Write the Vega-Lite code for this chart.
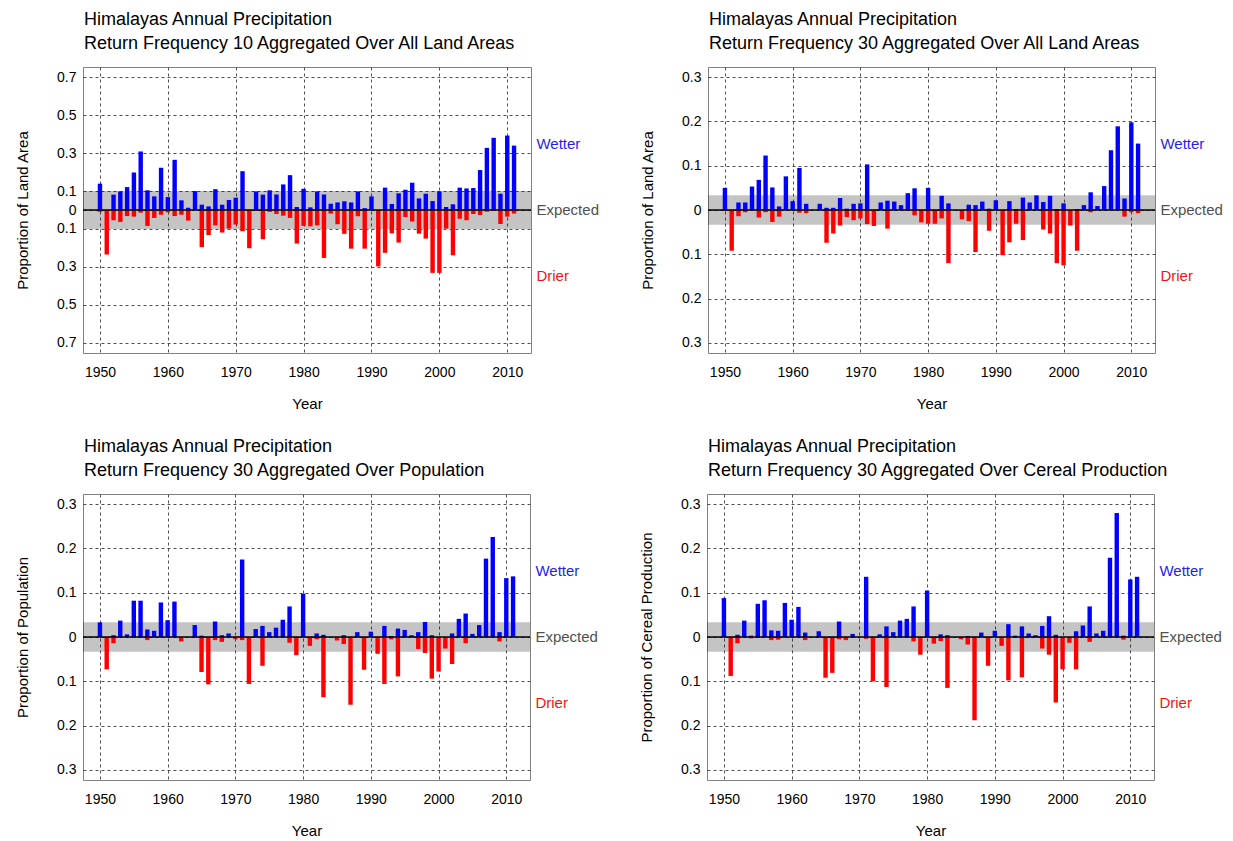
{
"$schema":"https://vega.github.io/schema/vega-lite/v6.json",
"padding":{"left":15,"top":10,"right":0,"bottom":0},
"background":"white",
"config":{
 "font":"Liberation Sans",
 "view":{"stroke":"#808080","strokeWidth":1},
 "axis":{"labelFontSize":14,"titleFontSize":15,"titleFontWeight":"normal","labelColor":"#000","titleColor":"#000","gridColor":"#505050","gridDash":[3,3],"gridWidth":1,"ticks":false,"domain":false,"labelFlush":false,"labelOverlap":false,"tickCount":30},
 "title":{"fontSize":18,"fontWeight":"normal","anchor":"start","frame":"group","color":"#000","lineHeight":24,"offset":14,"dx":1}
},
"datasets":{
"p1":[
{"yr":1950,"w":0.139,"d":-0.01},{"yr":1951,"w":0,"d":-0.235},{"yr":1952,"w":0.081,"d":-0.054},{"yr":1953,"w":0.098,"d":-0.063},{"yr":1954,"w":0.121,"d":-0.032},{"yr":1955,"w":0.198,"d":-0.035},{"yr":1956,"w":0.309,"d":-0.014},{"yr":1957,"w":0.104,"d":-0.084},{"yr":1958,"w":0.072,"d":-0.042},{"yr":1959,"w":0.223,"d":-0.025},
{"yr":1960,"w":0.068,"d":-0.012},{"yr":1961,"w":0.265,"d":-0.032},{"yr":1962,"w":0.051,"d":-0.025},{"yr":1963,"w":0.012,"d":-0.056},{"yr":1964,"w":0.1,"d":0},{"yr":1965,"w":0.028,"d":-0.196},{"yr":1966,"w":0.019,"d":-0.132},{"yr":1967,"w":0.11,"d":-0.081},{"yr":1968,"w":0.028,"d":-0.119},{"yr":1969,"w":0.053,"d":-0.098},
{"yr":1970,"w":0.065,"d":-0.077},{"yr":1971,"w":0.205,"d":-0.112},{"yr":1972,"w":0,"d":-0.202},{"yr":1973,"w":0.098,"d":-0.005},{"yr":1974,"w":0.081,"d":-0.154},{"yr":1975,"w":0.104,"d":-0.01},{"yr":1976,"w":0.082,"d":-0.021},{"yr":1977,"w":0.135,"d":-0.03},{"yr":1978,"w":0.184,"d":-0.042},{"yr":1979,"w":0.016,"d":-0.177},
{"yr":1980,"w":0.112,"d":-0.084},{"yr":1981,"w":0.014,"d":-0.086},{"yr":1982,"w":0.098,"d":-0.081},{"yr":1983,"w":0.082,"d":-0.253},{"yr":1984,"w":0.033,"d":-0.019},{"yr":1985,"w":0.04,"d":-0.075},{"yr":1986,"w":0.046,"d":-0.126},{"yr":1987,"w":0.04,"d":-0.204},{"yr":1988,"w":0.098,"d":-0.033},{"yr":1989,"w":0.01,"d":-0.204},
{"yr":1990,"w":0.072,"d":0},{"yr":1991,"w":0,"d":-0.298},{"yr":1992,"w":0.118,"d":-0.226},{"yr":1993,"w":0.032,"d":-0.123},{"yr":1994,"w":0.088,"d":-0.172},{"yr":1995,"w":0.107,"d":-0.037},{"yr":1996,"w":0.144,"d":-0.061},{"yr":1997,"w":0.061,"d":-0.125},{"yr":1998,"w":0.086,"d":-0.151},{"yr":1999,"w":0.047,"d":-0.332},
{"yr":2000,"w":0.098,"d":-0.332},{"yr":2001,"w":0.016,"d":-0.098},{"yr":2002,"w":0.03,"d":-0.239},{"yr":2003,"w":0.118,"d":-0.046},{"yr":2004,"w":0.114,"d":-0.054},{"yr":2005,"w":0.116,"d":-0.021},{"yr":2006,"w":0.211,"d":-0.026},{"yr":2007,"w":0.328,"d":-0.009},{"yr":2008,"w":0.381,"d":-0.005},{"yr":2009,"w":0.086,"d":-0.074},
{"yr":2010,"w":0.393,"d":-0.035},{"yr":2011,"w":0.34,"d":-0.019}],
"p2":[
{"yr":1950,"w":0.05,"d":-0.002},{"yr":1951,"w":0,"d":-0.092},{"yr":1952,"w":0.017,"d":-0.014},{"yr":1953,"w":0.017,"d":-0.005},{"yr":1954,"w":0.053,"d":0},{"yr":1955,"w":0.068,"d":-0.017},{"yr":1956,"w":0.123,"d":-0.005},{"yr":1957,"w":0.051,"d":-0.027},{"yr":1958,"w":0.008,"d":-0.015},{"yr":1959,"w":0.076,"d":0},
{"yr":1960,"w":0.02,"d":0},{"yr":1961,"w":0.095,"d":-0.006},{"yr":1962,"w":0.014,"d":-0.007},{"yr":1963,"w":0,"d":0},{"yr":1964,"w":0.014,"d":0},{"yr":1965,"w":0.005,"d":-0.074},{"yr":1966,"w":0.005,"d":-0.053},{"yr":1967,"w":0.027,"d":-0.035},{"yr":1968,"w":0.003,"d":-0.016},{"yr":1969,"w":0.014,"d":-0.023},
{"yr":1970,"w":0.015,"d":-0.019},{"yr":1971,"w":0.103,"d":-0.032},{"yr":1972,"w":0,"d":-0.036},{"yr":1973,"w":0.017,"d":0},{"yr":1974,"w":0.021,"d":-0.042},{"yr":1975,"w":0.019,"d":0},{"yr":1976,"w":0.011,"d":0},{"yr":1977,"w":0.038,"d":-0.002},{"yr":1978,"w":0.049,"d":-0.012},{"yr":1979,"w":0,"d":-0.028},
{"yr":1980,"w":0.05,"d":-0.031},{"yr":1981,"w":0,"d":-0.031},{"yr":1982,"w":0.032,"d":-0.019},{"yr":1983,"w":0.015,"d":-0.12},{"yr":1984,"w":0,"d":0},{"yr":1985,"w":0,"d":-0.021},{"yr":1986,"w":0.012,"d":-0.025},{"yr":1987,"w":0.011,"d":-0.095},{"yr":1988,"w":0.019,"d":0},{"yr":1989,"w":0.003,"d":-0.047},
{"yr":1990,"w":0.022,"d":0},{"yr":1991,"w":0,"d":-0.102},{"yr":1992,"w":0.02,"d":-0.073},{"yr":1993,"w":0.002,"d":-0.031},{"yr":1994,"w":0.028,"d":-0.068},{"yr":1995,"w":0.017,"d":0},{"yr":1996,"w":0.033,"d":0},{"yr":1997,"w":0.018,"d":-0.044},{"yr":1998,"w":0.032,"d":-0.053},{"yr":1999,"w":0.002,"d":-0.12},
{"yr":2000,"w":0.015,"d":-0.125},{"yr":2001,"w":0,"d":-0.035},{"yr":2002,"w":0.002,"d":-0.092},{"yr":2003,"w":0.011,"d":0},{"yr":2004,"w":0.04,"d":-0.005},{"yr":2005,"w":0.009,"d":0},{"yr":2006,"w":0.054,"d":0},{"yr":2007,"w":0.135,"d":0},{"yr":2008,"w":0.189,"d":0},{"yr":2009,"w":0.026,"d":-0.015},
{"yr":2010,"w":0.198,"d":-0.005},{"yr":2011,"w":0.15,"d":-0.007}],
"p3":[
{"yr":1950,"w":0.033,"d":0},{"yr":1951,"w":0,"d":-0.073},{"yr":1952,"w":0.004,"d":-0.014},{"yr":1953,"w":0.037,"d":0},{"yr":1954,"w":0.006,"d":0},{"yr":1955,"w":0.082,"d":-0.002},{"yr":1956,"w":0.082,"d":-0.002},{"yr":1957,"w":0.017,"d":-0.007},{"yr":1958,"w":0.014,"d":0},{"yr":1959,"w":0.078,"d":0},
{"yr":1960,"w":0.038,"d":0},{"yr":1961,"w":0.08,"d":0},{"yr":1962,"w":0,"d":-0.01},{"yr":1963,"w":0,"d":0},{"yr":1964,"w":0.027,"d":0},{"yr":1965,"w":0.003,"d":-0.079},{"yr":1966,"w":0,"d":-0.107},{"yr":1967,"w":0.035,"d":-0.007},{"yr":1968,"w":0.004,"d":-0.011},{"yr":1969,"w":0.008,"d":0},
{"yr":1970,"w":0,"d":-0.005},{"yr":1971,"w":0.175,"d":-0.007},{"yr":1972,"w":0,"d":-0.106},{"yr":1973,"w":0.018,"d":0},{"yr":1974,"w":0.025,"d":-0.065},{"yr":1975,"w":0.011,"d":0},{"yr":1976,"w":0.021,"d":0},{"yr":1977,"w":0.039,"d":0},{"yr":1978,"w":0.069,"d":-0.013},{"yr":1979,"w":0,"d":-0.041},
{"yr":1980,"w":0.098,"d":0},{"yr":1981,"w":0,"d":-0.02},{"yr":1982,"w":0.008,"d":-0.005},{"yr":1983,"w":0.005,"d":-0.136},{"yr":1984,"w":0,"d":0},{"yr":1985,"w":0,"d":-0.008},{"yr":1986,"w":0.004,"d":-0.016},{"yr":1987,"w":0,"d":-0.153},{"yr":1988,"w":0.011,"d":0},{"yr":1989,"w":0,"d":-0.074},
{"yr":1990,"w":0.012,"d":0},{"yr":1991,"w":0,"d":-0.038},{"yr":1992,"w":0.025,"d":-0.106},{"yr":1993,"w":0.002,"d":-0.005},{"yr":1994,"w":0.019,"d":-0.089},{"yr":1995,"w":0.016,"d":0},{"yr":1996,"w":0.004,"d":0},{"yr":1997,"w":0.011,"d":-0.027},{"yr":1998,"w":0.034,"d":-0.036},{"yr":1999,"w":0.004,"d":-0.094},
{"yr":2000,"w":0,"d":-0.078},{"yr":2001,"w":0,"d":-0.026},{"yr":2002,"w":0.008,"d":-0.061},{"yr":2003,"w":0.041,"d":0},{"yr":2004,"w":0.053,"d":-0.014},{"yr":2005,"w":0.007,"d":0},{"yr":2006,"w":0.027,"d":0},{"yr":2007,"w":0.177,"d":0},{"yr":2008,"w":0.226,"d":0},{"yr":2009,"w":0.011,"d":-0.01},
{"yr":2010,"w":0.133,"d":0},{"yr":2011,"w":0.137,"d":0}],
"p4":[
{"yr":1950,"w":0.088,"d":0},{"yr":1951,"w":0,"d":-0.088},{"yr":1952,"w":0.005,"d":-0.014},{"yr":1953,"w":0.037,"d":0},{"yr":1954,"w":0.003,"d":-0.003},{"yr":1955,"w":0.075,"d":-0.002},{"yr":1956,"w":0.083,"d":0},{"yr":1957,"w":0.015,"d":-0.007},{"yr":1958,"w":0.014,"d":-0.006},{"yr":1959,"w":0.077,"d":0},
{"yr":1960,"w":0.039,"d":0},{"yr":1961,"w":0.068,"d":0},{"yr":1962,"w":0.01,"d":-0.007},{"yr":1963,"w":0,"d":0},{"yr":1964,"w":0.013,"d":0},{"yr":1965,"w":0,"d":-0.092},{"yr":1966,"w":0,"d":-0.081},{"yr":1967,"w":0.035,"d":-0.005},{"yr":1968,"w":0,"d":-0.007},{"yr":1969,"w":0.007,"d":0},
{"yr":1970,"w":0,"d":0},{"yr":1971,"w":0.136,"d":-0.004},{"yr":1972,"w":0,"d":-0.1},{"yr":1973,"w":0.006,"d":0},{"yr":1974,"w":0.024,"d":-0.113},{"yr":1975,"w":0.011,"d":0},{"yr":1976,"w":0.037,"d":0},{"yr":1977,"w":0.041,"d":0},{"yr":1978,"w":0.069,"d":-0.01},{"yr":1979,"w":0,"d":-0.04},
{"yr":1980,"w":0.105,"d":0},{"yr":1981,"w":0,"d":-0.015},{"yr":1982,"w":0.006,"d":-0.009},{"yr":1983,"w":0.004,"d":-0.115},{"yr":1984,"w":0,"d":0},{"yr":1985,"w":0,"d":-0.005},{"yr":1986,"w":0.002,"d":-0.017},{"yr":1987,"w":0,"d":-0.188},{"yr":1988,"w":0.01,"d":0},{"yr":1989,"w":0,"d":-0.065},
{"yr":1990,"w":0.014,"d":0},{"yr":1991,"w":0,"d":-0.02},{"yr":1992,"w":0.029,"d":-0.098},{"yr":1993,"w":0.003,"d":-0.002},{"yr":1994,"w":0.024,"d":-0.091},{"yr":1995,"w":0.008,"d":0},{"yr":1996,"w":0.004,"d":0},{"yr":1997,"w":0.025,"d":-0.026},{"yr":1998,"w":0.047,"d":-0.04},{"yr":1999,"w":0.005,"d":-0.148},
{"yr":2000,"w":0,"d":-0.073},{"yr":2001,"w":0,"d":-0.013},{"yr":2002,"w":0.013,"d":-0.073},{"yr":2003,"w":0.026,"d":0},{"yr":2004,"w":0.069,"d":-0.011},{"yr":2005,"w":0.008,"d":0},{"yr":2006,"w":0.014,"d":0},{"yr":2007,"w":0.179,"d":0},{"yr":2008,"w":0.28,"d":0},{"yr":2009,"w":0.003,"d":-0.006},
{"yr":2010,"w":0.13,"d":0},{"yr":2011,"w":0.136,"d":0}]
},
"vconcat":[
{"hconcat":[
{"width":448,"height":286,
 "title":{"text":["Himalayas Annual Precipitation","Return Frequency 10 Aggregated Over All Land Areas"]},
 "data":{"name":"p1"},
 "layer":[
  {"data":{"values":[{}]},"mark":{"type":"rect","fill":"#000","opacity":0.23},"encoding":{"y":{"datum":-0.1,"type":"quantitative"},"y2":{"datum":0.1}}},
  {"mark":{"type":"bar","width":4.4,"color":"#0000ff"},"encoding":{
    "x":{"field":"yr","type":"quantitative","scale":{"domain":[1947.5,2013.5],"nice":false,"zero":false,"padding":0},"axis":{"values":[1950,1960,1970,1980,1990,2000,2010],"format":"d","title":"Year","grid":true,"labelPadding":12,"titlePadding":17}},
    "y":{"field":"w","type":"quantitative","scale":{"domain":[-0.755,0.755],"nice":false,"padding":0},"axis":{"values":[-0.7,-0.5,-0.3,-0.1,0,0.1,0.3,0.5,0.7],"labelExpr":"format(abs(datum.value),'.1~f')","title":"Proportion of Land Area","grid":true,"labelPadding":7,"titlePadding":26}}}},
  {"mark":{"type":"bar","width":4.4,"color":"#ff0000"},"encoding":{"x":{"field":"yr","type":"quantitative"},"y":{"field":"d","type":"quantitative"}}},
  {"data":{"values":[{}]},"mark":{"type":"rule","color":"#000","strokeWidth":1.6},"encoding":{"y":{"datum":0,"type":"quantitative"}}},
  {"data":{"values":[{"t":"Wetter"}]},"mark":{"type":"text","align":"left","baseline":"middle","fontSize":15,"color":"#1f1fe6"},"encoding":{"x":{"datum":2014.3,"type":"quantitative","scale":{"domain":[1947.5,2013.5],"nice":false,"zero":false,"padding":0}},"y":{"datum":0.35,"type":"quantitative"},"text":{"field":"t"}}},
  {"data":{"values":[{"t":"Expected"}]},"mark":{"type":"text","align":"left","baseline":"middle","fontSize":15,"color":"#505050"},"encoding":{"x":{"datum":2014.3,"type":"quantitative","scale":{"domain":[1947.5,2013.5],"nice":false,"zero":false,"padding":0}},"y":{"datum":0,"type":"quantitative"},"text":{"field":"t"}}},
  {"data":{"values":[{"t":"Drier"}]},"mark":{"type":"text","align":"left","baseline":"middle","fontSize":15,"color":"#f01414"},"encoding":{"x":{"datum":2014.3,"type":"quantitative","scale":{"domain":[1947.5,2013.5],"nice":false,"zero":false,"padding":0}},"y":{"datum":-0.35,"type":"quantitative"},"text":{"field":"t"}}}
 ]},
{"width":447,"height":286,
 "title":{"text":["Himalayas Annual Precipitation","Return Frequency 30 Aggregated Over All Land Areas"]},
 "data":{"name":"p2"},
 "layer":[
  {"data":{"values":[{}]},"mark":{"type":"rect","fill":"#000","opacity":0.23},"encoding":{"y":{"datum":-0.0333,"type":"quantitative"},"y2":{"datum":0.0333}}},
  {"mark":{"type":"bar","width":4.4,"color":"#0000ff"},"encoding":{
    "x":{"field":"yr","type":"quantitative","scale":{"domain":[1947.5,2013.5],"nice":false,"zero":false,"padding":0},"axis":{"values":[1950,1960,1970,1980,1990,2000,2010],"format":"d","title":"Year","grid":true,"labelPadding":12,"titlePadding":17}},
    "y":{"field":"w","type":"quantitative","scale":{"domain":[-0.323,0.323],"nice":false,"padding":0},"axis":{"values":[-0.3,-0.2,-0.1,0,0.1,0.2,0.3],"labelExpr":"format(abs(datum.value),'.1~f')","title":"Proportion of Land Area","grid":true,"labelPadding":7,"titlePadding":26}}}},
  {"mark":{"type":"bar","width":4.4,"color":"#ff0000"},"encoding":{"x":{"field":"yr","type":"quantitative"},"y":{"field":"d","type":"quantitative"}}},
  {"data":{"values":[{}]},"mark":{"type":"rule","color":"#000","strokeWidth":1.6},"encoding":{"y":{"datum":0,"type":"quantitative"}}},
  {"data":{"values":[{"t":"Wetter"}]},"mark":{"type":"text","align":"left","baseline":"middle","fontSize":15,"color":"#1f1fe6"},"encoding":{"x":{"datum":2014.3,"type":"quantitative","scale":{"domain":[1947.5,2013.5],"nice":false,"zero":false,"padding":0}},"y":{"datum":0.15,"type":"quantitative"},"text":{"field":"t"}}},
  {"data":{"values":[{"t":"Expected"}]},"mark":{"type":"text","align":"left","baseline":"middle","fontSize":15,"color":"#505050"},"encoding":{"x":{"datum":2014.3,"type":"quantitative","scale":{"domain":[1947.5,2013.5],"nice":false,"zero":false,"padding":0}},"y":{"datum":0,"type":"quantitative"},"text":{"field":"t"}}},
  {"data":{"values":[{"t":"Drier"}]},"mark":{"type":"text","align":"left","baseline":"middle","fontSize":15,"color":"#f01414"},"encoding":{"x":{"datum":2014.3,"type":"quantitative","scale":{"domain":[1947.5,2013.5],"nice":false,"zero":false,"padding":0}},"y":{"datum":-0.15,"type":"quantitative"},"text":{"field":"t"}}}
 ]}
],"spacing":40},
{"hconcat":[
{"width":447,"height":286,
 "title":{"text":["Himalayas Annual Precipitation","Return Frequency 30 Aggregated Over Population"]},
 "data":{"name":"p3"},
 "layer":[
  {"data":{"values":[{}]},"mark":{"type":"rect","fill":"#000","opacity":0.23},"encoding":{"y":{"datum":-0.0333,"type":"quantitative"},"y2":{"datum":0.0333}}},
  {"mark":{"type":"bar","width":4.4,"color":"#0000ff"},"encoding":{
    "x":{"field":"yr","type":"quantitative","scale":{"domain":[1947.5,2013.5],"nice":false,"zero":false,"padding":0},"axis":{"values":[1950,1960,1970,1980,1990,2000,2010],"format":"d","title":"Year","grid":true,"labelPadding":12,"titlePadding":17}},
    "y":{"field":"w","type":"quantitative","scale":{"domain":[-0.323,0.323],"nice":false,"padding":0},"axis":{"values":[-0.3,-0.2,-0.1,0,0.1,0.2,0.3],"labelExpr":"format(abs(datum.value),'.1~f')","title":"Proportion of Population","grid":true,"labelPadding":7,"titlePadding":26}}}},
  {"mark":{"type":"bar","width":4.4,"color":"#ff0000"},"encoding":{"x":{"field":"yr","type":"quantitative"},"y":{"field":"d","type":"quantitative"}}},
  {"data":{"values":[{}]},"mark":{"type":"rule","color":"#000","strokeWidth":1.6},"encoding":{"y":{"datum":0,"type":"quantitative"}}},
  {"data":{"values":[{"t":"Wetter"}]},"mark":{"type":"text","align":"left","baseline":"middle","fontSize":15,"color":"#1f1fe6"},"encoding":{"x":{"datum":2014.3,"type":"quantitative","scale":{"domain":[1947.5,2013.5],"nice":false,"zero":false,"padding":0}},"y":{"datum":0.15,"type":"quantitative"},"text":{"field":"t"}}},
  {"data":{"values":[{"t":"Expected"}]},"mark":{"type":"text","align":"left","baseline":"middle","fontSize":15,"color":"#505050"},"encoding":{"x":{"datum":2014.3,"type":"quantitative","scale":{"domain":[1947.5,2013.5],"nice":false,"zero":false,"padding":0}},"y":{"datum":0,"type":"quantitative"},"text":{"field":"t"}}},
  {"data":{"values":[{"t":"Drier"}]},"mark":{"type":"text","align":"left","baseline":"middle","fontSize":15,"color":"#f01414"},"encoding":{"x":{"datum":2014.3,"type":"quantitative","scale":{"domain":[1947.5,2013.5],"nice":false,"zero":false,"padding":0}},"y":{"datum":-0.15,"type":"quantitative"},"text":{"field":"t"}}}
 ]},
{"width":447,"height":286,
 "title":{"text":["Himalayas Annual Precipitation","Return Frequency 30 Aggregated Over Cereal Production"]},
 "data":{"name":"p4"},
 "layer":[
  {"data":{"values":[{}]},"mark":{"type":"rect","fill":"#000","opacity":0.23},"encoding":{"y":{"datum":-0.0333,"type":"quantitative"},"y2":{"datum":0.0333}}},
  {"mark":{"type":"bar","width":4.4,"color":"#0000ff"},"encoding":{
    "x":{"field":"yr","type":"quantitative","scale":{"domain":[1947.5,2013.5],"nice":false,"zero":false,"padding":0},"axis":{"values":[1950,1960,1970,1980,1990,2000,2010],"format":"d","title":"Year","grid":true,"labelPadding":12,"titlePadding":17}},
    "y":{"field":"w","type":"quantitative","scale":{"domain":[-0.323,0.323],"nice":false,"padding":0},"axis":{"values":[-0.3,-0.2,-0.1,0,0.1,0.2,0.3],"labelExpr":"format(abs(datum.value),'.1~f')","title":"Proportion of Cereal Production","grid":true,"labelPadding":7,"titlePadding":26}}}},
  {"mark":{"type":"bar","width":4.4,"color":"#ff0000"},"encoding":{"x":{"field":"yr","type":"quantitative"},"y":{"field":"d","type":"quantitative"}}},
  {"data":{"values":[{}]},"mark":{"type":"rule","color":"#000","strokeWidth":1.6},"encoding":{"y":{"datum":0,"type":"quantitative"}}},
  {"data":{"values":[{"t":"Wetter"}]},"mark":{"type":"text","align":"left","baseline":"middle","fontSize":15,"color":"#1f1fe6"},"encoding":{"x":{"datum":2014.3,"type":"quantitative","scale":{"domain":[1947.5,2013.5],"nice":false,"zero":false,"padding":0}},"y":{"datum":0.15,"type":"quantitative"},"text":{"field":"t"}}},
  {"data":{"values":[{"t":"Expected"}]},"mark":{"type":"text","align":"left","baseline":"middle","fontSize":15,"color":"#505050"},"encoding":{"x":{"datum":2014.3,"type":"quantitative","scale":{"domain":[1947.5,2013.5],"nice":false,"zero":false,"padding":0}},"y":{"datum":0,"type":"quantitative"},"text":{"field":"t"}}},
  {"data":{"values":[{"t":"Drier"}]},"mark":{"type":"text","align":"left","baseline":"middle","fontSize":15,"color":"#f01414"},"encoding":{"x":{"datum":2014.3,"type":"quantitative","scale":{"domain":[1947.5,2013.5],"nice":false,"zero":false,"padding":0}},"y":{"datum":-0.15,"type":"quantitative"},"text":{"field":"t"}}}
 ]}
],"spacing":40}
],
"spacing":25
}
